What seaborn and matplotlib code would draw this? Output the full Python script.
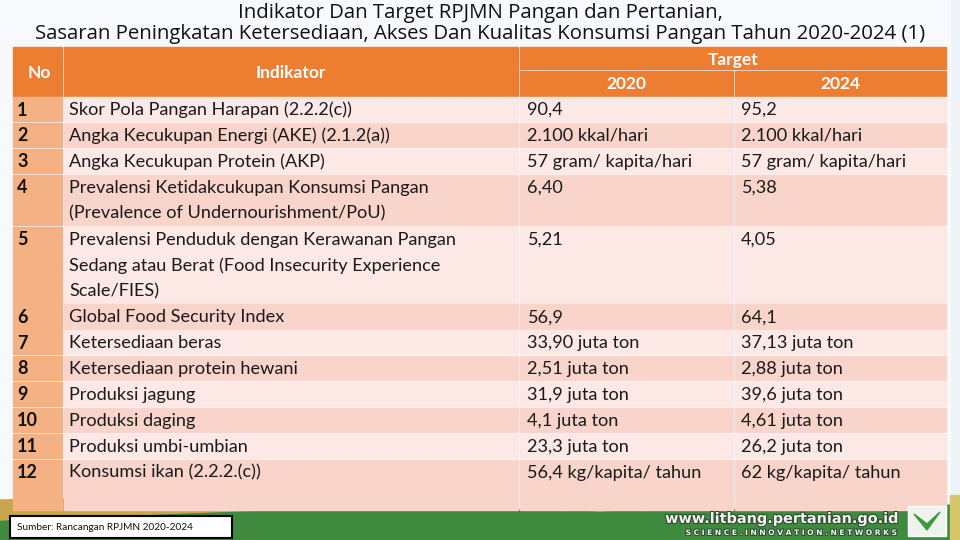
import matplotlib
matplotlib.use("Agg")
import matplotlib.pyplot as plt
import matplotlib.patches as mpatches
import matplotlib.patheffects as pe
import seaborn as sns

sns.set_theme(style="white")
plt.rcParams["font.family"] = ["Lato", "DejaVu Sans"]

title_lines = ["Indikator Dan Target RPJMN Pangan dan Pertanian,",
               "Sasaran Peningkatan Ketersediaan, Akses Dan Kualitas Konsumsi Pangan Tahun 2020-2024 (1)"]
header_no = "No"
header_ind = "Indikator"
header_target = "Target"
years = ["2020", "2024"]

numbers = ["1", "2", "3", "4", "5", "6", "7", "8", "9", "10", "11", "12"]
indikator = [
    ["Skor Pola Pangan Harapan (2.2.2(c))"],
    ["Angka Kecukupan Energi (AKE) (2.1.2(a))"],
    ["Angka Kecukupan Protein (AKP)"],
    ["Prevalensi Ketidakcukupan Konsumsi Pangan", "(Prevalence of Undernourishment/PoU)"],
    ["Prevalensi Penduduk dengan Kerawanan Pangan", "Sedang atau Berat (Food Insecurity Experience", "Scale/FIES)"],
    ["Global Food Security Index"],
    ["Ketersediaan beras"],
    ["Ketersediaan protein hewani"],
    ["Produksi jagung"],
    ["Produksi daging"],
    ["Produksi umbi-umbian"],
    ["Konsumsi ikan (2.2.2.(c))"],
]
target_2020 = ["90,4", "2.100 kkal/hari", "57 gram/ kapita/hari", "6,40", "5,21", "56,9",
               "33,90 juta ton", "2,51 juta ton", "31,9 juta ton", "4,1 juta ton",
               "23,3 juta ton", "56,4 kg/kapita/ tahun"]
target_2024 = ["95,2", "2.100 kkal/hari", "57 gram/ kapita/hari", "5,38", "4,05", "64,1",
               "37,13 juta ton", "2,88 juta ton", "39,6 juta ton", "4,61 juta ton",
               "26,2 juta ton", "62 kg/kapita/ tahun"]
row_lines = [1, 1, 1, 2, 3, 1, 1, 1, 1, 1, 1, 2]
source_text = "Sumber: Rancangan RPJMN 2020-2024"
site_text = "www.litbang.pertanian.go.id"
tagline = "S C I E N C E . I N N O V A T I O N . N E T W O R K S"

ORANGE = "#ed7d31"
NO_COL = "#f4b183"
LIGHT = "#fce9e5"
DARK = "#f8d4ca"

fig = plt.figure(figsize=(9.6, 5.4), dpi=100)
ax = fig.add_axes([0, 0, 1, 1])
ax.set_xlim(0, 960)
ax.set_ylim(540, 0)
ax.axis("off")

# background
ax.add_patch(mpatches.Rectangle((0, 0), 960, 540, color="#eef3f8", zorder=0))
ax.add_patch(mpatches.Rectangle((0, 0), 950, 500, color="#f7f9fc", zorder=0))
ax.add_patch(mpatches.Polygon([(0, 505), (300, 505), (600, 512), (960, 505), (960, 540), (0, 540)],
                              closed=True, color="#3f8a3f", zorder=0))
ax.add_patch(mpatches.Polygon([(0, 500), (120, 498), (260, 510), (0, 520)],
                              closed=True, color="#c9a64a", zorder=0))
ax.add_patch(mpatches.Polygon([(950, 495), (960, 495), (960, 540), (950, 540)],
                              closed=True, color="#d8c46a", zorder=0))

# title
for i, t in enumerate(title_lines):
    ax.text(480, 13 + i * 21, t, ha="center", va="center", fontsize=14.7,
            family=["Open Sans", "DejaVu Sans"], color="#111111")

cols = [(13, 62), (64, 518), (520, 733), (735, 946)]
# header
hy0, hmid, hy1 = 47, 70, 96
ax.add_patch(mpatches.Rectangle((cols[0][0], hy0), cols[0][1] - cols[0][0], hy1 - hy0, color=ORANGE))
ax.add_patch(mpatches.Rectangle((cols[1][0], hy0), cols[1][1] - cols[1][0], hy1 - hy0, color=ORANGE))
ax.add_patch(mpatches.Rectangle((cols[2][0], hy0), cols[3][1] - cols[2][0], hmid - hy0 - 1, color=ORANGE))
for c in cols[2:]:
    ax.add_patch(mpatches.Rectangle((c[0], hmid + 1), c[1] - c[0], hy1 - hmid - 1, color=ORANGE))
ax.text((cols[0][0] + cols[0][1]) / 2 + 2, 73, header_no, ha="center", va="center",
        fontsize=12.5, fontweight="bold", color="white")
ax.text((cols[1][0] + cols[1][1]) / 2, 73, header_ind, ha="center", va="center",
        fontsize=12.5, fontweight="bold", color="white")
ax.text((cols[2][0] + cols[3][1]) / 2, 60, header_target, ha="center", va="center",
        fontsize=12.5, fontweight="bold", color="white")
for c, y in zip(cols[2:], years):
    ax.text((c[0] + c[1]) / 2, 84, y, ha="center", va="center",
            fontsize=12.5, fontweight="bold", color="white")

# body
lh = 25.9
y = 97
for i in range(len(numbers)):
    h = row_lines[i] * lh
    bg = LIGHT if i % 2 == 0 else DARK
    ax.add_patch(mpatches.Rectangle((cols[0][0], y), cols[0][1] - cols[0][0], h - 1.5, color=NO_COL))
    for c in cols[1:]:
        ax.add_patch(mpatches.Rectangle((c[0], y), c[1] - c[0], h - 1.5, color=bg))
    ax.text(cols[0][0] + 4, y + 13, numbers[i], ha="left", va="center",
            fontsize=13, fontweight="bold", color="#111111")
    for k, line in enumerate(indikator[i]):
        ax.text(cols[1][0] + 5, y + 13 + k * lh, line, ha="left", va="center",
                fontsize=13.1, color="#1a1a1a")
    ax.text(cols[2][0] + 7, y + 13, target_2020[i], ha="left", va="center",
            fontsize=13.1, color="#1a1a1a")
    ax.text(cols[3][0] + 6, y + 13, target_2024[i], ha="left", va="center",
            fontsize=13.1, color="#1a1a1a")
    y += h

# footer
ax.add_patch(mpatches.Rectangle((10, 516), 222, 22, facecolor="white", edgecolor="black", lw=1.5, zorder=3))
ax.text(17, 527, source_text, ha="left", va="center", fontsize=7.2, color="#111111", zorder=4)
outline = [pe.withStroke(linewidth=1.5, foreground="#2a4a2a")]
ax.text(898, 519, site_text, ha="right", va="center", fontsize=10.4, fontweight="bold",
        color="#f4f4f4", family=["DejaVu Sans"], zorder=4, path_effects=outline)
ax.text(898, 533, tagline, ha="right", va="center", fontsize=5.4, fontweight="bold",
        color="#f4f4f4", family=["DejaVu Sans"], zorder=4, path_effects=outline)
ax.add_patch(mpatches.Rectangle((908, 506), 38, 30, facecolor="#eef3ee", zorder=3))
ax.add_patch(mpatches.Polygon([(914, 514), (927, 524), (940, 512), (927, 530)], closed=True,
                              color="#3c9a3c", zorder=4))

fig.savefig("out.png", dpi=100)
